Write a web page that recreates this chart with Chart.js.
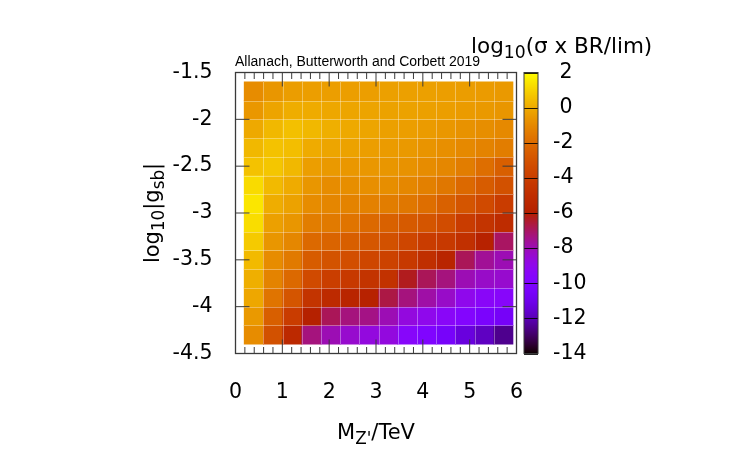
<!DOCTYPE html>
<html><head><meta charset="utf-8">
<script src="https://cdn.jsdelivr.net/npm/chart.js@4/dist/chart.umd.min.js"></script>
<style>html,body{margin:0;padding:0;background:#fff}</style>
</head><body>
<canvas id="c" width="750" height="450"></canvas>
<script>
// ---------------- DATA ----------------
const massTeV = [0.39, 0.80, 1.21, 1.62, 2.03, 2.44, 2.85, 3.26, 3.67, 4.08, 4.49, 4.90, 5.31, 5.72];
const log10gsb = [-4.3, -4.1, -3.9, -3.7, -3.5, -3.3, -3.1, -2.9, -2.7, -2.5, -2.3, -2.1, -1.9, -1.7];
// log10(sigma x BR / lim), one array per row of log10|g_sb|
const zAt_m4_3 = [-0.9, -3.1, -5.3, -7.3, -8.0, -8.4, -8.7, -8.7, -9.5, -10.0, -10.5, -11.3, -11.8, -12.5];
const zAt_m4_1 = [-0.5, -2.5, -4.1, -5.9, -6.9, -7.3, -7.4, -8.0, -8.7, -9.0, -9.4, -9.8, -10.3, -10.6];
const zAt_m3_9 = [-0.1, -1.7, -2.9, -4.6, -5.2, -5.6, -5.8, -6.7, -7.3, -7.8, -8.3, -9.0, -9.4, -9.5];
const zAt_m3_7 = [0.1, -1.2, -2.1, -3.4, -4.0, -4.3, -4.6, -4.7, -6.3, -6.9, -7.3, -8.0, -8.3, -8.4];
const zAt_m3_5 = [0.4, -0.9, -1.5, -2.6, -3.0, -3.2, -3.6, -3.8, -4.3, -4.9, -5.6, -6.9, -7.6, -8.0];
const zAt_m3_3 = [0.8, -0.6, -1.05, -2.1, -2.3, -2.5, -2.8, -3.1, -3.6, -4.1, -4.3, -4.8, -5.8, -7.0];
const zAt_m3_1 = [1.25, -0.3, -0.6, -1.4, -1.5, -1.7, -2.1, -2.4, -2.7, -2.9, -3.3, -4.1, -4.6, -5.1];
const zAt_m2_9 = [1.45, 0.05, -0.25, -0.9, -1.1, -1.2, -1.25, -1.4, -1.6, -1.9, -2.4, -2.9, -3.4, -4.1];
const zAt_m2_7 = [1.2, 0.4, 0.0, -0.6, -0.9, -0.85, -0.8, -0.85, -1.05, -1.3, -1.6, -2.1, -2.6, -3.1];
const zAt_m2_5 = [0.6, 0.7, 0.35, -0.35, -0.5, -0.55, -0.55, -0.6, -0.7, -0.9, -1.05, -1.4, -1.9, -2.5];
const zAt_m2_3 = [0.35, 0.6, 0.5, 0.0, -0.15, -0.25, -0.35, -0.45, -0.5, -0.65, -0.8, -1.0, -1.2, -1.4];
const zAt_m2_1 = [-0.05, 0.35, 0.55, 0.35, 0.1, -0.05, -0.15, -0.3, -0.35, -0.45, -0.55, -0.7, -0.85, -1.0];
const zAt_m1_9 = [-0.55, -0.2, 0.05, 0.0, -0.1, -0.15, -0.2, -0.25, -0.25, -0.3, -0.35, -0.45, -0.5, -0.6];
const zAt_m1_7 = [-0.9, -0.6, -0.4, -0.35, -0.35, -0.35, -0.35, -0.3, -0.3, -0.3, -0.35, -0.4, -0.45, -0.5];
const zRows = [zAt_m4_3, zAt_m4_1, zAt_m3_9, zAt_m3_7, zAt_m3_5, zAt_m3_3, zAt_m3_1,
               zAt_m2_9, zAt_m2_7, zAt_m2_5, zAt_m2_3, zAt_m2_1, zAt_m1_9, zAt_m1_7];

const xTicks = [0, 1, 2, 3, 4, 5, 6];
const yTicks = [-4.5, -4, -3.5, -3, -2.5, -2, -1.5];
const cbTicks = [-14, -12, -10, -8, -6, -4, -2, 0, 2];

// ---------------- STYLE ----------------
const FONT = 'DejaVu Sans';
const TICK_SIZE = 20.5;
const TITLE_SIZE = 21;
const INK = '#000';
const FRAME = '#3a3a3a';

// gnuplot default palette rgbformulae 7,5,15
function palette(v) {
  const lo = cbTicks[0], hi = cbTicks[cbTicks.length - 1];
  const t = Math.min(1, Math.max(0, (v - lo) / (hi - lo)));
  const r = Math.sqrt(t), g = t * t * t, b = Math.max(0, Math.sin(2 * Math.PI * t));
  return `rgb(${Math.round(r * 255)},${Math.round(g * 255)},${Math.round(b * 255)})`;
}

// build cells
const halfH = (log10gsb[1] - log10gsb[0]) / 2;
const cells = [], colors = [];
zRows.forEach((row, r) => {
  row.forEach((z, c) => {
    cells.push({ x: massTeV[c], y: [log10gsb[r] - halfH, log10gsb[r] + halfH] });
    colors.push(palette(z));
  });
});

function drawRich(ctx, parts, x, y, size) {
  let cx = x;
  for (const p of parts) {
    const s = p.sub ? size * 0.8 : size;
    ctx.font = `${s}px "${FONT}"`;
    ctx.fillText(p.t, cx, y + (p.sub ? size * 0.24 : 0));
    cx += ctx.measureText(p.t).width;
  }
  return cx - x;
}
function richWidth(ctx, parts, size) {
  let w = 0;
  for (const p of parts) {
    const s = p.sub ? size * 0.8 : size;
    ctx.font = `${s}px "${FONT}"`;
    w += ctx.measureText(p.t).width;
  }
  return w;
}

const decorPlugin = {
  id: 'decor',
  afterDatasetsDraw(chart) {
    const { ctx, chartArea: a, scales } = chart;
    const xs = scales.x, ys = scales.y, cb = scales.cb;
    ctx.save();
    // light lines between cells
    ctx.strokeStyle = 'rgba(255,255,255,0.35)';
    ctx.lineWidth = 1;
    const x0 = xs.getPixelForValue(massTeV[0] - (massTeV[1] - massTeV[0]) / 2);
    const x1 = xs.getPixelForValue(massTeV[massTeV.length - 1] + (massTeV[1] - massTeV[0]) / 2);
    const y0 = ys.getPixelForValue(log10gsb[0] - halfH);
    const y1 = ys.getPixelForValue(log10gsb[log10gsb.length - 1] + halfH);
    ctx.beginPath();
    for (let i = 1; i < massTeV.length; i++) {
      const px = Math.round(xs.getPixelForValue((massTeV[i] + massTeV[i - 1]) / 2)) + 0.5;
      ctx.moveTo(px, y0); ctx.lineTo(px, y1);
    }
    for (let i = 1; i < log10gsb.length; i++) {
      const py = Math.round(ys.getPixelForValue((log10gsb[i] + log10gsb[i - 1]) / 2)) + 0.5;
      ctx.moveTo(x0, py); ctx.lineTo(x1, py);
    }
    ctx.stroke();

    // frame
    ctx.strokeStyle = FRAME;
    ctx.lineWidth = 1.3;
    ctx.strokeRect(a.left, a.top, a.right - a.left, a.bottom - a.top);

    // ticks (inward, mirrored)
    ctx.lineWidth = 1;
    ctx.beginPath();
    const MAJ = 14, MIN = 6.5;
    xTicks.forEach((v, i) => {
      const px = xs.getPixelForValue(v);
      ctx.moveTo(px, a.bottom); ctx.lineTo(px, a.bottom - MAJ);
      ctx.moveTo(px, a.top); ctx.lineTo(px, a.top + MAJ);
      if (i < xTicks.length - 1) {
        const step = (xTicks[i + 1] - v) / 5;
        for (let k = 1; k < 5; k++) {
          const mx = xs.getPixelForValue(v + k * step);
          ctx.moveTo(mx, a.bottom); ctx.lineTo(mx, a.bottom - MIN);
          ctx.moveTo(mx, a.top); ctx.lineTo(mx, a.top + MIN);
        }
      }
    });
    yTicks.forEach(v => {
      const py = ys.getPixelForValue(v);
      ctx.moveTo(a.left, py); ctx.lineTo(a.left + MAJ, py);
      ctx.moveTo(a.right, py); ctx.lineTo(a.right - MAJ, py);
    });
    ctx.stroke();

    // colour box
    const cbL = a.right + 7.5, cbR = a.right + 21.5;
    for (let py = Math.floor(cb.top); py < cb.bottom; py++) {
      ctx.fillStyle = palette(cb.getValueForPixel(py + 0.5));
      ctx.fillRect(cbL, py, cbR - cbL, 1);
    }
    ctx.strokeStyle = 'rgba(0,0,0,0.85)';
    ctx.lineWidth = 1;
    ctx.beginPath();
    cbTicks.forEach(v => {
      const py = Math.round(cb.getPixelForValue(v)) + 0.5;
      ctx.moveTo(cbL, py); ctx.lineTo(cbR, py);
    });
    ctx.stroke();
    ctx.strokeStyle = FRAME;
    ctx.strokeRect(cbL, cb.top, cbR - cbL, cb.bottom - cb.top);

    // texts
    ctx.fillStyle = INK;
    ctx.textAlign = 'left';
    ctx.textBaseline = 'alphabetic';
    // annotation
    ctx.font = '14px "Liberation Sans"';
    ctx.fillText('Allanach, Butterworth and Corbett 2019', a.left - 0.5, a.top - 7);
    // colour box title
    drawRich(ctx, [{ t: 'log' }, { t: '10', sub: true }, { t: '(σ x BR/lim)' }], a.right - 45.5, a.top - 20, TITLE_SIZE + 0.5);
    // x title
    const xParts = [{ t: 'M' }, { t: "Z'", sub: true }, { t: '/TeV' }];
    const xw = richWidth(ctx, xParts, TITLE_SIZE);
    drawRich(ctx, xParts, (a.left + a.right) / 2 - xw / 2, a.bottom + 85, TITLE_SIZE);
    // y title
    const yParts = [{ t: 'log' }, { t: '10', sub: true }, { t: '|g' }, { t: 'sb', sub: true }, { t: '|' }];
    const yw = richWidth(ctx, yParts, TITLE_SIZE);
    ctx.translate(a.left - 77, (a.top + a.bottom) / 2);
    ctx.rotate(-Math.PI / 2);
    drawRich(ctx, yParts, -yw / 2, 0, TITLE_SIZE);
    ctx.restore();
  }
};

const tickFont = { family: FONT, size: TICK_SIZE };
new Chart(document.getElementById('c'), {
  type: 'bar',
  data: {
    datasets: [{
      data: cells,
      backgroundColor: colors,
      borderWidth: 0,
      barPercentage: 1,
      categoryPercentage: 1,
      yAxisID: 'y'
    }]
  },
  options: {
    responsive: false,
    animation: false,
    devicePixelRatio: 1,
    events: [],
    layout: { padding: { left: 155.5, right: 133.5, top: 72.5, bottom: 46.5 } },
    plugins: { legend: { display: false }, tooltip: { enabled: false } },
    scales: {
      x: {
        type: 'linear', position: 'bottom', min: 0, max: 6, offset: false,
        grid: { display: false, offset: false }, border: { display: false },
        afterBuildTicks: s => { s.ticks = xTicks.map(v => ({ value: v })); },
        afterFit: s => { s.height = 50; },
        ticks: { font: tickFont, color: INK, padding: 19, maxRotation: 0, callback: v => String(v) }
      },
      y: {
        type: 'linear', position: 'left', min: -4.5, max: -1.5,
        grid: { display: false }, border: { display: false },
        afterBuildTicks: s => { s.ticks = yTicks.map(v => ({ value: v })); },
        afterFit: s => { s.width = 80; },
        ticks: { font: tickFont, color: INK, padding: 15, callback: v => String(v) }
      },
      cb: {
        type: 'linear', position: 'right', min: -14, max: 2,
        grid: { display: false }, border: { display: false },
        afterBuildTicks: s => { s.ticks = cbTicks.map(v => ({ value: v })); },
        afterFit: s => { s.width = 100; },
        ticks: { font: tickFont, color: INK, padding: 28.5, callback: v => (v >= 0 ? ' ' + v : String(v)) }
      }
    }
  },
  plugins: [decorPlugin]
});
</script>
</body></html>
